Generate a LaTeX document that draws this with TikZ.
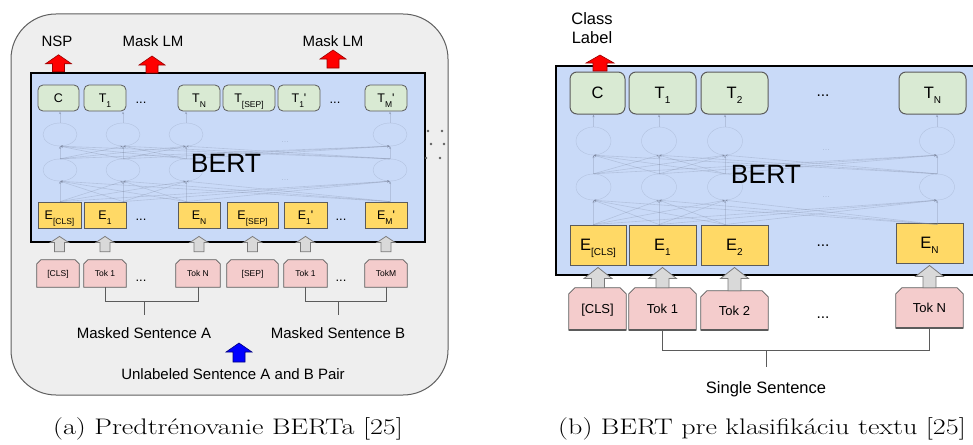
\documentclass[tikz,border=0pt]{standalone}
\usepackage{fontspec}
\newfontfamily\arial{Liberation Sans}
\usetikzlibrary{calc,arrows.meta,shapes.geometric}

\definecolor{panelfill}{HTML}{EEEEEE}
\definecolor{panelline}{HTML}{5F5F5F}
\definecolor{bertfill}{HTML}{C9DAF8}
\definecolor{outfill}{HTML}{D9EAD3}
\definecolor{embfill}{HTML}{FFD966}
\definecolor{tokfill}{HTML}{F4CCCC}
\definecolor{boxline}{HTML}{5B5B5B}
\definecolor{netline}{HTML}{7F8AA3}
\definecolor{inarrow}{HTML}{D9D9D9}
\definecolor{inarrowline}{HTML}{7A7A7A}
\definecolor{redfill}{HTML}{FF0000}
\definecolor{redline}{HTML}{9A0000}
\definecolor{bluefill}{HTML}{0000FF}
\definecolor{blueline}{HTML}{000080}

\pgfdeclarelayer{panels}
\pgfdeclarelayer{tokens}
\pgfsetlayers{panels,tokens,main}

% upright block arrow: style, base point, tip point, half shaft, half head, head length
\newcommand{\blockup}[6]{%
  \path[#1] let \p1=(#2), \p2=(#3) in
    (\x2-#4,\y1) -- (\x2-#4,\y2-#6) -- (\x2-#5,\y2-#6) -- (\x2,\y2)
    -- (\x2+#5,\y2-#6) -- (\x2+#4,\y2-#6) -- (\x2+#4,\y1) -- cycle;}

% token frame with both upper corners cut off
\newcommand{\tokframe}[2]{%
  \path[tokframe] (#1.south west) -- ($(#1.north west)+(0,#2)$)
    -- ($(#1.north west)+(#2,0)$) -- ($(#1.north east)+(-#2,0)$)
    -- ($(#1.north east)+(0,#2)$) -- (#1.south east) -- cycle;}

% low subscripts
\newcommand{\subL}[1]{\raisebox{-5pt}{\fontsize{8.5}{9}\selectfont #1}}
\newcommand{\subR}[1]{\raisebox{-4.5pt}{\fontsize{10}{11}\selectfont #1}}

% wide serif caption
\newcommand{\captext}[1]{\scalebox{1.25}[1]{#1}}

\tikzset{
  lbl/.style={font=\arial\fontsize{15}{18}\selectfont, inner sep=0pt, anchor=base},
  lblR/.style={font=\arial\fontsize{16.5}{19}\selectfont, inner sep=0pt, anchor=base},
  dotsL/.style={font=\arial\fontsize{13}{14}\selectfont, inner sep=0pt, anchor=base},
  dotsR/.style={font=\arial\fontsize{15.5}{16}\selectfont, inner sep=0pt, anchor=base},
  panelbox/.style={draw=panelline, fill=panelfill, line width=1pt, rounded corners=45pt, inner sep=0pt},
  bertbox/.style={draw=black, fill=bertfill, line width=2.5pt, inner sep=0pt},
  bertword/.style={font=\arial\fontsize{26.5}{30}\selectfont, inner sep=0pt, anchor=base},
  outL/.style={draw=boxline, fill=outfill, rounded corners=5pt, line width=0.8pt,
    minimum height=26pt, inner sep=0pt, text height=9pt, text depth=0pt,
    font=\arial\fontsize{12.5}{14}\selectfont},
  embL/.style={draw=boxline, fill=embfill, line width=0.8pt,
    minimum height=26pt, inner sep=0pt, text height=9pt, text depth=0pt,
    font=\arial\fontsize{12.5}{14}\selectfont},
  tokL/.style={minimum height=27pt, inner sep=0pt, text height=6pt, text depth=0pt,
    font=\arial\fontsize{8.5}{10}\selectfont},
  outR/.style={draw=boxline, fill=outfill, rounded corners=7pt, line width=1pt,
    minimum height=42pt, inner sep=0pt, text height=11.8pt, text depth=0pt,
    font=\arial\fontsize{16.5}{18}\selectfont},
  embR/.style={draw=boxline, fill=embfill, line width=1pt,
    minimum height=40pt, inner sep=0pt, text height=11.8pt, text depth=0pt,
    font=\arial\fontsize{16.5}{18}\selectfont},
  tokR/.style={minimum height=42pt, inner sep=0pt, text height=9.3pt, text depth=0pt,
    font=\arial\fontsize{13}{15}\selectfont},
  tokframe/.style={draw=boxline, fill=tokfill, line width=0.8pt},
  tokbase/.style={draw=boxline, line width=1.8pt},
  netnode/.style={ellipse, draw=netline, draw opacity=0.3, inner sep=0pt},
  netarrow/.style={draw=netline, draw opacity=0.3, line width=0.6pt,
    -{Stealth[length=3pt,width=2.6pt]}},
  netdots/.style={font=\arial\fontsize{9}{10}\selectfont, text=netline, opacity=0.35, inner sep=0pt},
  grayarrow/.style={fill=inarrow, draw=inarrowline, line width=0.8pt},
  redarrow/.style={fill=redfill, draw=redline, line width=0.6pt},
  bluearrow/.style={fill=bluefill, draw=blueline, line width=0.6pt},
  bracket/.style={draw=boxline, line width=0.9pt},
  caption/.style={font=\fontsize{22.5}{26}\selectfont, inner sep=0pt, anchor=base},
}

\begin{document}
\begin{tikzpicture}[x=1pt,y=-1pt]
\useasboundingbox (0,0) rectangle (973,444);

% ---------------- (a) pre-training ----------------
\begin{pgfonlayer}{panels}
  \node[panelbox, minimum width=437pt, minimum height=381pt] (panelA) at (229.5,204.5) {};
  \node[bertbox, minimum width=394pt, minimum height=169pt] (bertA) at (228,157.5) {};
\end{pgfonlayer}
\foreach \px/\py in {428/131,442/131,431/144,444/144,426/158,440/158}
  \fill[panelline] (\px,\py) circle (1.3pt);

% output row
\node[outL, minimum width=41pt] (lc)   at (58.5,98) {C};
\node[outL, minimum width=42pt] (lt1)  at (105,98) {T\subL{1}};
\node[outL, minimum width=42pt] (ltn)  at (199,98) {T\subL{N}};
\node[outL, minimum width=52pt] (ltsep) at (249,98) {T\subL{[SEP]}};
\node[outL, minimum width=42pt] (ltb1) at (299,98) {T\subL{1}\textquotesingle};
\node[outL, minimum width=42pt] (ltm)  at (386,98) {T\subL{M}\textquotesingle};
\node[dotsL] (ldt1) at (141,103) {...};
\node[dotsL] (ldt2) at (335,103) {...};

% embedding row
\node[embL, minimum width=43pt] (lecls) at (59.5,215) {E\subL{[CLS]}};
\node[embL, minimum width=42pt] (le1)   at (105,215) {E\subL{1}};
\node[embL, minimum width=42pt] (len)   at (199,215) {E\subL{N}};
\node[embL, minimum width=51pt] (lesep) at (252.5,215) {E\subL{[SEP]}};
\node[embL, minimum width=43pt] (leb1)  at (305.5,215) {E\subL{1}\textquotesingle};
\node[embL, minimum width=42pt] (lem)   at (386,215) {E\subL{M}\textquotesingle};
\node[dotsL] (lde1) at (141,220) {...};
\node[dotsL] (lde2) at (341,220) {...};

% faint transformer layers
\foreach \i/\cx in {1/60,2/123,3/186,4/390} {
  \node[netnode, minimum width=34pt, minimum height=23pt] (lu\i) at (\cx,134.5) {};
  \node[netnode, minimum width=34pt, minimum height=22pt] (ll\i) at (\cx,170) {};
}
\foreach \i in {1,...,4} {
  \draw[netarrow] (lu\i.north) -- (lu\i.north |- lc.south);
  \foreach \j in {1,...,4} {
    \draw[netarrow] (ll\i.north) -- (lu\j.south);
    \draw[netarrow] (ll\i.south |- lecls.north) -- (ll\j.south);
  }
}
\node[netdots] (ldn1) at (285,142) {...};
\node[netdots] (ldn2) at (285,180) {...};
\node[bertword] (bertwA) at (226,172) {BERT};

% token row
\node[tokL, minimum width=42pt] (lkcls) at (58,273.5) {[CLS]};
\node[tokL, minimum width=42pt] (lk1)   at (105,273.5) {Tok 1};
\node[tokL, minimum width=44pt] (lkn)   at (198,273.5) {Tok N};
\node[tokL, minimum width=51pt] (lksep) at (252.5,273.5) {[SEP]};
\node[tokL, minimum width=43pt] (lkb1)  at (305.5,273.5) {Tok 1};
\node[tokL, minimum width=42pt] (lkm)   at (386,273.5) {TokM};
\begin{pgfonlayer}{tokens}
  \foreach \n in {lkcls,lk1,lkn,lksep,lkb1,lkm} {\tokframe{\n}{4}}
\end{pgfonlayer}
\node[dotsL] (ldk1) at (141,281) {...};
\node[dotsL] (ldk2) at (341,281) {...};

% token -> embedding arrows
\foreach \a/\b in {lkcls/lecls,lk1/le1,lkn/len,lksep/lesep,lkb1/leb1,lkm/lem}
  \blockup{grayarrow}{$(\a.north)+(0,-8)$}{$(\b.south)+(0,8)$}{5pt}{9pt}{6pt};

% sentence brackets
\draw[bracket] (lk1.south) -- ++(0,14) -| (lkn.south);
\coordinate (stemA) at (144,301);
\draw[bracket] (stemA) -- ++(0,14);
\draw[bracket] (lkb1.south) -- ++(0,14) -| (lkm.south);
\coordinate (stemB) at (338,301);
\draw[bracket] (stemB) -- ++(0,14);
\node[lbl] (sentA) at (144,338) {Masked Sentence A};
\node[lbl] (sentB) at (338,338) {Masked Sentence B};

% input pair
\coordinate (pairfoot) at (239,362);
\coordinate (pairtip) at (239,343);
\blockup{bluearrow}{pairfoot}{pairtip}{6pt}{13pt}{9pt};
\node[lbl] (pair) at (233,379) {Unlabeled Sentence A and B Pair};

% prediction heads
\coordinate (nspfoot) at (lc.north |- bertA.north);
\coordinate (nsptip) at ($(nspfoot)+(0,-17)$);
\blockup{redarrow}{nspfoot}{nsptip}{6pt}{13pt}{9pt};
\coordinate (mlmAfoot) at (152,73);
\coordinate (mlmAtip) at (152,56);
\blockup{redarrow}{mlmAfoot}{mlmAtip}{6pt}{13pt}{9pt};
\coordinate (mlmBfoot) at (333,68);
\coordinate (mlmBtip) at (333,50);
\blockup{redarrow}{mlmBfoot}{mlmBtip}{6pt}{13pt}{9pt};
\node[lbl] (nsp) at (57,47) {NSP};
\node[lbl] (mlmA) at (153,47) {Mask LM};
\node[lbl] (mlmB) at (333,47) {Mask LM};

\node[caption] (capA) at (228,434) {\captext{(a) Predtrénovanie BERTa [25]}};

% ---------------- (b) classification ----------------
\begin{pgfonlayer}{panels}
  \node[bertbox, minimum width=429pt, minimum height=209pt] (bertB) at (770.5,170.5) {};
\end{pgfonlayer}

\node[outR, minimum width=55pt] (rc)  at (597.5,93) {C};
\node[outR, minimum width=67pt] (rt1) at (662.5,93) {T\subR{1}};
\node[outR, minimum width=67pt] (rt2) at (734.5,93) {T\subR{2}};
\node[outR, minimum width=67pt] (rtn) at (932.5,93) {T\subR{N}};
\node[dotsR] (rdt) at (823,96.5) {...};

\node[embR, minimum width=56pt] (recls) at (598,245) {E\subR{[CLS]}};
\node[embR, minimum width=67pt] (re1)   at (662.5,245) {E\subR{1}};
\node[embR, minimum width=67pt] (re2)   at (734.5,245) {E\subR{2}};
\node[embR, minimum width=67pt] (ren)   at (929.5,243) {E\subR{N}};
\node[dotsR] (rde) at (823,246.5) {...};

\foreach \i/\cx in {1/593.5,2/659,3/725,4/937} {
  \node[netnode, minimum width=35pt, minimum height=28pt] (ru\i) at (\cx,141) {};
  \node[netnode, minimum width=35pt, minimum height=26pt] (rl\i) at (\cx,187) {};
}
\foreach \i in {1,...,4} {
  \draw[netarrow] (ru\i.north) -- (ru\i.north |- rc.south);
  \foreach \j in {1,...,4} {
    \draw[netarrow] (rl\i.north) -- (ru\j.south);
    \draw[netarrow] (rl\i.south |- recls.north) -- (rl\j.south);
  }
}
\node[netdots] (rdn1) at (826,150) {...};
\node[netdots] (rdn2) at (826,197) {...};
\node[bertword] (bertwB) at (766,183) {BERT};

\node[tokR, minimum width=57pt] (rkcls) at (597.5,309) {[CLS]};
\node[tokR, minimum width=67pt] (rk1)   at (662.5,309) {Tok 1};
\node[tokR, minimum width=67pt, minimum height=39pt] (rk2) at (734.5,310.5) {Tok 2};
\node[tokR, minimum width=67pt, minimum height=40pt] (rkn) at (929.5,308) {Tok N};
\begin{pgfonlayer}{tokens}
  \foreach \n in {rkcls,rk1,rk2,rkn} {
    \tokframe{\n}{6}
    \draw[tokbase] (\n.south west) -- (\n.south east);
  }
\end{pgfonlayer}
\node[dotsR] (rdk) at (823,318.5) {...};

\foreach \a/\b in {rkcls/recls,rk1/re1,rk2/re2,rkn/ren}
  \blockup{grayarrow}{\a.north}{$(\b.south)+(0,2)$}{6.5pt}{14pt}{11pt};

\draw[bracket] (rk1.south) -- ++(0,20) -| (rkn.south);
\coordinate (stemC) at (766,350);
\draw[bracket] (stemC) -- ++(0,17);
\node[lblR] (single) at (766,393) {Single Sentence};

\coordinate (clsfoot) at (600,71);
\coordinate (clstip) at (600,55);
\blockup{redarrow}{clsfoot}{clstip}{7pt}{14pt}{8pt};
\node[lblR, anchor=north, align=center, font=\arial\fontsize{16.5}{19}\selectfont] (classlbl) at (592,12) {Class\\Label};

\node[caption, anchor=base west] (capB) at (558,434) {\captext{(b) BERT pre klasifikáciu textu [25]}};
\end{tikzpicture}
\end{document}
